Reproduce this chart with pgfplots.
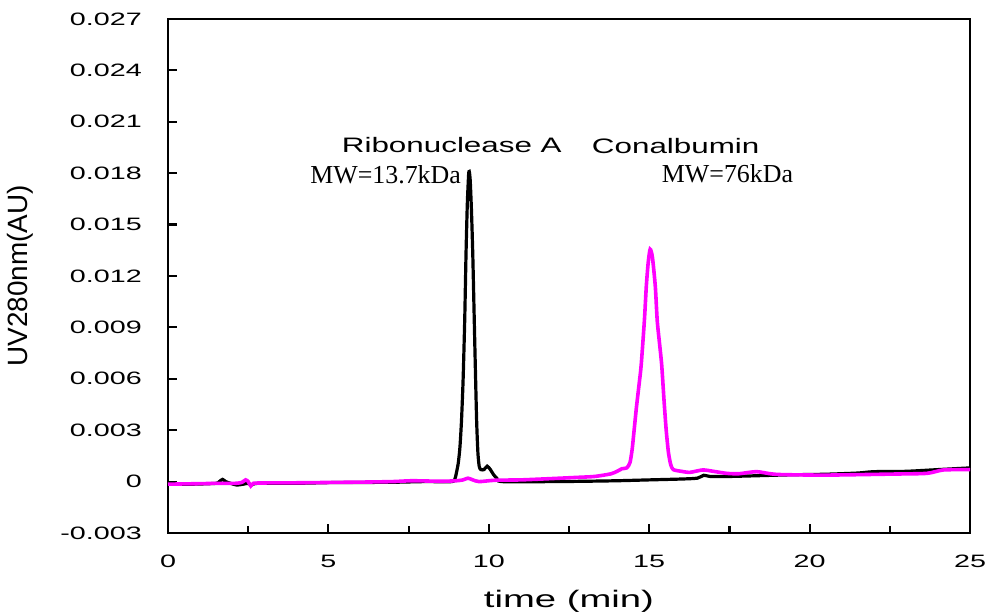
\documentclass[border=0pt]{standalone}
\usepackage{fontspec}
\setmainfont{Liberation Sans}
\newfontfamily\tickfont[FakeStretch=1.6]{Liberation Sans}
\newfontfamily\labfont[FakeStretch=1.5]{Liberation Sans}
\newfontfamily\mwfont{Liberation Serif}
\usepackage{pgfplots}
\pgfplotsset{compat=1.18}
\definecolor{mag}{RGB}{255,0,255}
\begin{document}
\begin{tikzpicture}
\begin{axis}[
  scale only axis, width=802bp, height=514bp,
  xmin=0, xmax=25, ymin=-0.003, ymax=0.027,
  axis line style={line width=2.8bp},
  xtick={0,5,10,15,20,25}, xticklabels={0,5,10,15,20,25},
  minor xtick={2.5,7.5,12.5,17.5,22.5},
  ytick={-0.003,0,0.003,0.006,0.009,0.012,0.015,0.018,0.021,0.024,0.027},
  yticklabels={-0.003,0,0.003,0.006,0.009,0.012,0.015,0.018,0.021,0.024,0.027},
  scaled y ticks=false, scaled x ticks=false,
  tick pos=left, tick align=inside,
  major tick length=9bp, minor tick length=7bp,
  every tick/.style={line width=2.2bp, black},
  xticklabel style={font=\fontsize{18}{20}\tickfont, anchor=north, inner sep=0pt, yshift=-22bp},
  yticklabel style={font=\fontsize{18}{20}\tickfont, anchor=east, inner sep=0pt, xshift=-26bp},
  xlabel={time (min)},
  xlabel style={at={(axis description cs:0.5,0)}, anchor=north, inner sep=0pt, yshift=-57bp, font=\fontsize{24}{26}\tickfont},
  ylabel={UV280nm(AU)},
  ylabel style={at={(axis description cs:0,0.5)}, rotate=0, anchor=center, inner sep=0pt, yshift=148bp, font=\fontsize{28}{30}\selectfont},
]
\coordinate (sw) at (rel axis cs:0,0);
\coordinate (ne) at (rel axis cs:1,1);
\node[anchor=base west, font=\fontsize{21}{24}\labfont, inner sep=0pt] at (axis cs:5.415,0.01918) {Ribonuclease A};
\node[anchor=base west, font=\fontsize{21}{24}\labfont, inner sep=0pt] at (axis cs:13.21,0.01916) {Conalbumin};
\node[anchor=base west, font=\fontsize{26}{28}\mwfont, inner sep=0pt] at (axis cs:4.43,0.01741) {MW=13.7kDa};
\node[anchor=base west, font=\fontsize{26}{28}\mwfont, inner sep=0pt] at (axis cs:15.39,0.01743) {MW=76kDa};
\addplot[black, line width=3.2bp, smooth, tension=0.4] coordinates {
(0,-0.00015) (0.8,-0.00015) (1.5,-0.0001) (1.6,0.0000) (1.7,0.00013) (1.8,0.0000) (1.95,-0.0001) (2.14,-0.0002) (2.35,-0.00015) (2.5,-0.0001) (2.6,-0.0002) (2.8,-0.0001) (4,-0.0001) (5,-0.00006) (6,-0.00005) (7,-0.00004) (8,0.0000) (8.85,0.0000) (8.95,0.0002) (9.0,0.0006) (9.05,0.0011) (9.1,0.0020) (9.15,0.0036) (9.2,0.0060) (9.25,0.0095) (9.29,0.0133) (9.33,0.0162) (9.37,0.0179) (9.39,0.0181) (9.42,0.0176) (9.46,0.0158) (9.50,0.0133) (9.54,0.0100) (9.57,0.0075) (9.62,0.0036) (9.66,0.0017) (9.70,0.0009) (9.75,0.0007) (9.85,0.0007) (9.95,0.0009) (10.05,0.0007) (10.15,0.0004) (10.25,0.0002) (10.4,0.0000) (12,0.0000) (13,0.00002) (14,0.00005) (15,0.0001) (16,0.00015) (16.5,0.0002) (16.7,0.00037) (16.9,0.0003) (17.5,0.0003) (18.5,0.00035) (19.5,0.0004) (20.5,0.00043) (21.5,0.0005) (22,0.00058) (23,0.0006) (24,0.0007) (25,0.0008)
};
\addplot[mag, line width=3.6bp, smooth, tension=0.4] coordinates {
(0,-0.00015) (1.0,-0.00012) (1.6,-0.0001) (2.1,-0.0001) (2.3,-0.00005) (2.42,0.0001) (2.5,0.0000) (2.58,-0.00025) (2.66,-0.0001) (3,-0.00008) (4,-0.00007) (5,-0.00005) (6,-0.00003) (7,0.0000) (7.6,0.00005) (8.5,0.00002) (9.0,0.00005) (9.2,0.0001) (9.35,0.0002) (9.5,0.0001) (9.7,0.0000) (10.2,0.00008) (11,0.0001) (12,0.00018) (12.8,0.00025) (13.3,0.0003) (13.8,0.00045) (14.0,0.0006) (14.15,0.00075) (14.3,0.0008) (14.4,0.0011) (14.47,0.0019) (14.53,0.0030) (14.6,0.0043) (14.68,0.0056) (14.75,0.0068) (14.85,0.0094) (14.91,0.0114) (14.97,0.0128) (15.03,0.01356) (15.1,0.0131) (15.19,0.0114) (15.25,0.0094) (15.32,0.0081) (15.39,0.0068) (15.46,0.0048) (15.53,0.0030) (15.6,0.0017) (15.67,0.0010) (15.75,0.0007) (16.0,0.0006) (16.27,0.00054) (16.67,0.00068) (17.0,0.0006) (17.42,0.00048) (17.8,0.00046) (18.35,0.00058) (18.97,0.00042) (20.5,0.00038) (22.6,0.00044) (23.65,0.00048) (24.17,0.00068) (25,0.0007)
};
\end{axis}
\pgfresetboundingbox
\path[use as bounding box] ([xshift=-168bp,yshift=-80bp]sw) rectangle ([xshift=18bp,yshift=19bp]ne);
\end{tikzpicture}
\end{document}
